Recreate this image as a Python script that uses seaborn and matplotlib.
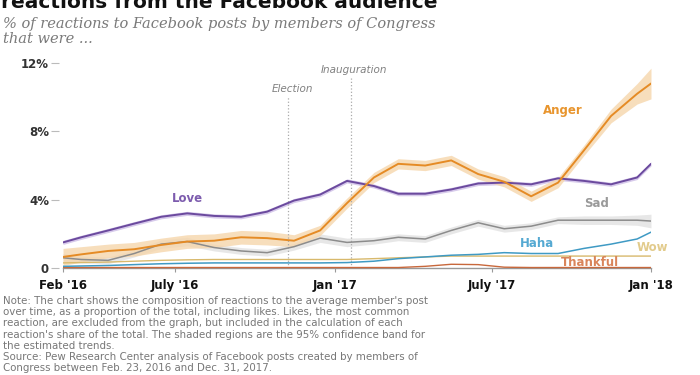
import numpy as np
import pandas as pd
import seaborn as sns
import matplotlib.pyplot as plt
import matplotlib.dates as mdates

# mid-month sample points
dates = pd.to_datetime(['2016-02-23', '2016-03-15', '2016-04-15', '2016-05-15', '2016-06-15',
                        '2016-07-15', '2016-08-15', '2016-09-15', '2016-10-15', '2016-11-15',
                        '2016-12-15', '2017-01-15', '2017-02-15', '2017-03-15', '2017-04-15',
                        '2017-05-15', '2017-06-15', '2017-07-15', '2017-08-15', '2017-09-15',
                        '2017-10-15', '2017-11-15', '2017-12-15', '2017-12-31'])

love = [1.5, 1.8, 2.2, 2.6, 3.0, 3.2, 3.05, 3.0, 3.3, 3.95, 4.3, 5.1,
        4.8, 4.35, 4.35, 4.6, 4.95, 5.0, 4.9, 5.25, 5.1, 4.9, 5.3, 6.1]
anger = [0.65, 0.8, 1.0, 1.1, 1.35, 1.55, 1.6, 1.8, 1.75, 1.6, 2.2, 3.8,
         5.3, 6.1, 6.0, 6.3, 5.5, 5.05, 4.2, 5.0, 6.9, 8.9, 10.2, 10.8]
sad = [0.6, 0.5, 0.45, 0.85, 1.4, 1.55, 1.2, 1.0, 0.9, 1.25, 1.75, 1.5,
       1.6, 1.8, 1.7, 2.2, 2.65, 2.3, 2.45, 2.8, 2.8, 2.8, 2.8, 2.75]
haha = [0.1, 0.12, 0.15, 0.2, 0.25, 0.28, 0.3, 0.3, 0.3, 0.3, 0.3, 0.32,
        0.4, 0.55, 0.65, 0.75, 0.8, 0.9, 0.85, 0.85, 1.15, 1.4, 1.7, 2.1]
wow = [0.3, 0.32, 0.35, 0.4, 0.45, 0.48, 0.5, 0.5, 0.5, 0.5, 0.5, 0.5,
       0.55, 0.6, 0.65, 0.7, 0.7, 0.7, 0.7, 0.7, 0.7, 0.7, 0.7, 0.7]
thankful = [0.03, 0.03, 0.03, 0.03, 0.03, 0.03, 0.03, 0.03, 0.03, 0.03, 0.03, 0.03,
            0.03, 0.03, 0.1, 0.22, 0.2, 0.05, 0.03, 0.03, 0.03, 0.03, 0.03, 0.03]

# half-width of the 95% bands
anger_ci = [0.5, 0.45, 0.4, 0.4, 0.4, 0.4, 0.4, 0.4, 0.4, 0.35, 0.3, 0.3,
            0.3, 0.3, 0.3, 0.3, 0.3, 0.3, 0.3, 0.3, 0.3, 0.4, 0.6, 0.9]
sad_ci = [0.25, 0.2, 0.2, 0.2, 0.25, 0.25, 0.2, 0.2, 0.2, 0.2, 0.25, 0.25,
          0.2, 0.2, 0.2, 0.2, 0.2, 0.2, 0.2, 0.2, 0.25, 0.25, 0.3, 0.4]
love_ci = [0.12] * len(dates)

names = ['Love', 'Anger', 'Sad', 'Haha', 'Wow', 'Thankful']
values = [love, anger, sad, haha, wow, thankful]
bands = {'Love': love_ci, 'Anger': anger_ci, 'Sad': sad_ci}

line_colors = {'Love': '#6b4a9e', 'Anger': '#e58b25', 'Sad': '#8c8c8c',
               'Haha': '#3f9ac4', 'Wow': '#d8b96c', 'Thankful': '#c8683c'}
band_colors = {'Love': '#cdbde6', 'Anger': '#f6d6ac', 'Sad': '#e2e2e2'}
label_colors = {'Love': '#7d5cae', 'Anger': '#e8952e', 'Sad': '#9a9a9a',
                'Haha': '#55a9d2', 'Wow': '#e2cb8c', 'Thankful': '#d9845a'}
widths = {'Love': 1.4, 'Anger': 1.4, 'Sad': 1.1, 'Haha': 1.1, 'Wow': 1.0, 'Thankful': 1.0}

df = pd.DataFrame({'date': np.tile(dates, len(names)),
                   'reaction': np.repeat(names, len(dates)),
                   'share': np.concatenate(values)})

sns.set_style('white')
plt.rcParams['font.family'] = ['DejaVu Sans']

fig = plt.figure(figsize=(7, 3.75), dpi=100)
ax = fig.add_axes([0.09, 0.2784, 0.84, 0.590])

for name in ['Sad', 'Love', 'Anger']:
    v = np.array(df[df.reaction == name].share)
    ci = np.array(bands[name])
    ax.fill_between(dates, v - ci, v + ci, color=band_colors[name], alpha=0.8, lw=0, zorder=1)

for name in ['Thankful', 'Wow', 'Haha', 'Sad', 'Love', 'Anger']:
    sns.lineplot(data=df[df.reaction == name], x='date', y='share', color=line_colors[name],
                 linewidth=widths[name], ax=ax, zorder=3)

ax.set_xlim(pd.Timestamp('2016-02-23'), pd.Timestamp('2017-12-31'))
ax.set_ylim(-0.15, 12.8)
ax.set_xlabel('')
ax.set_ylabel('')

# event markers
d2n = lambda s: mdates.date2num(pd.Timestamp(s))
ax.vlines(d2n('2016-11-08'), 0, 10.0, colors='#aaaaaa', linestyles=':', lw=0.9, zorder=2)
ax.vlines(d2n('2017-01-20'), 0, 11.1, colors='#aaaaaa', linestyles=':', lw=0.9, zorder=2)
ax.text(d2n('2016-11-13'), 10.5, 'Election', style='italic', color='#808080',
        fontsize=7.5, ha='center', va='center')
ax.text(d2n('2017-01-23'), 11.6, 'Inauguration', style='italic', color='#808080',
        fontsize=7.5, ha='center', va='center')

# series labels
label_pos = {'Love': ('2016-07-15', 4.05), 'Anger': ('2017-09-21', 9.25),
             'Sad': ('2017-10-29', 3.75), 'Haha': ('2017-08-22', 1.45),
             'Wow': ('2018-01-02', 1.23), 'Thankful': ('2017-10-22', 0.35)}
for name, (d, y) in label_pos.items():
    ax.text(d2n(d), y, name, color=label_colors[name], fontsize=8.5, fontweight='bold',
            ha='center', va='center', zorder=5)

# axes styling
for s in ['top', 'right', 'left']:
    ax.spines[s].set_visible(False)
ax.spines['bottom'].set_position(('data', 0))
ax.spines['bottom'].set_color('#999999')
ax.spines['bottom'].set_linewidth(1.0)

ax.set_yticks([0, 4, 8, 12])
ax.set_yticklabels(['0', '4%', '8%', '12%'])
ax.tick_params(axis='y', left=True, length=6, width=0.8, color='#bbbbbb', pad=1,
               labelsize=8.5, labelcolor='#333333')
ax.yaxis.get_major_ticks()[0].tick1line.set_visible(False)
ax.spines['left'].set_position(('outward', 3))

xt = ['2016-02-23', '2016-07-01', '2017-01-01', '2017-07-01', '2017-12-31']
ax.set_xticks([d2n(d) for d in xt])
ax.set_xticklabels(["Feb '16", "July '16", "Jan '17", "July '17", "Jan '18"])
ax.tick_params(axis='x', bottom=True, length=3, width=0.8, color='#999999', pad=5,
               labelsize=8.5, labelcolor='#111111')
for lbl in ax.get_xticklabels() + ax.get_yticklabels():
    lbl.set_fontweight('bold')

# titles
fig.text(0.002, 1 - 8 / 375, 'reactions from the Facebook audience', fontsize=14.5,
         fontweight='bold', va='baseline', ha='left', color='#111111')
fig.text(0.004, 1 - 28 / 375, '% of reactions to Facebook posts by members of Congress',
         fontsize=10.5, style='italic', family='DejaVu Serif', color='#7a7a7a', va='baseline')
fig.text(0.004, 1 - 43 / 375, 'that were ...', fontsize=10.5, style='italic',
         family='DejaVu Serif', color='#7a7a7a', va='baseline')

note_lines = [
    "Note: The chart shows the composition of reactions to the average member's post",
    "over time, as a proportion of the total, including likes. Likes, the most common",
    "reaction, are excluded from the graph, but included in the calculation of each",
    "reaction's share of the total. The shaded regions are the 95% confidence band for",
    "the estimated trends.",
    "Source: Pew Research Center analysis of Facebook posts created by members of",
    "Congress between Feb. 23, 2016 and Dec. 31, 2017.",
]
for i, line in enumerate(note_lines):
    fig.text(0.004, 1 - (301 + i * 11.2) / 375, line, fontsize=7.4, color='#777777',
             va='center', ha='left')

fig.savefig('out.png', dpi=100)
